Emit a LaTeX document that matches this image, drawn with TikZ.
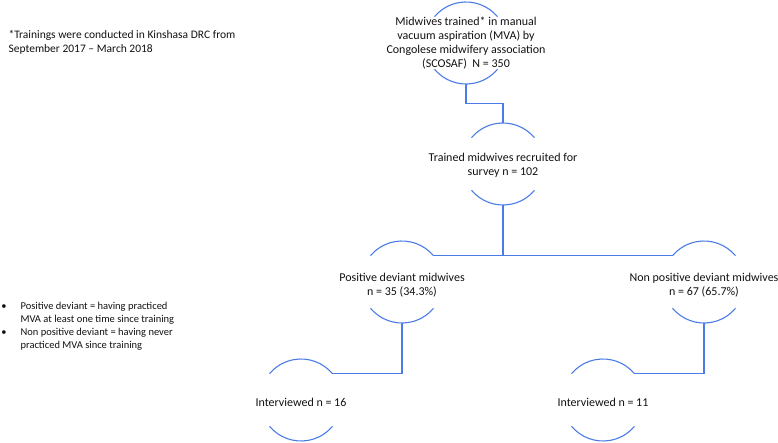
\documentclass[tikz,border=0pt]{standalone}
\usepackage{fontspec}
\setmainfont{Carlito}
\usetikzlibrary{calc}
\definecolor{cline}{HTML}{4A7BE6}
\definecolor{ctext}{HTML}{111111}
\tikzset{
  every picture/.style={line width=1.1pt},
  ring/.style={circle, minimum size=82pt, inner sep=0pt, outer sep=0pt},
  lbl/.style={align=center, inner sep=0pt, text=ctext, font=\fontsize{12}{14}\selectfont},
  link/.style={draw=cline, line width=1.1pt},
  note/.style={align=left, inner sep=0pt, text=ctext, font=\fontsize{11.5}{14}\selectfont},
  bnote/.style={align=left, inner sep=0pt, text=ctext, font=\fontsize{10.5}{12.7}\selectfont},
}

\begin{document}
\begin{tikzpicture}[x=1pt,y=1pt]
  \useasboundingbox (0,0) rectangle (778,-443);
  % the circles, only their upper and lower arcs are drawn
  \foreach \n/\x/\y in {top/466/43, rec/503/164, pos/402/282, neg/704/282, intp/301/400, intn/603/400}
    \node[ring] (\n) at (\x,-\y) {};
  \foreach \n in {top,rec,pos,neg,intp,intn} {
    \draw[link] (\n.40) arc[start angle=40, end angle=140, radius=41pt];
    \draw[link] (\n.220) arc[start angle=220, end angle=320, radius=41pt];
  }
  % texts in the circles
  \node[lbl] (topt) at (466,-43) {Midwives trained* in manual\\ vacuum aspiration (MVA) by\\ Congolese midwifery association\\ (SCOSAF)~~N = 350};
  \node[lbl] (rect) at (503,-165) {Trained midwives recruited for\\ survey n = 102};
  \node[lbl] (post) at (402,-285) {Positive deviant midwives\\ n = 35 (34.3\%)};
  \node[lbl] (negt) at (704,-285) {Non positive deviant midwives\\ n = 67 (65.7\%)};
  \node[lbl] (intpt) at (301,-402.5) {Interviewed n = 16};
  \node[lbl] (intnt) at (603,-402.5) {Interviewed n = 11};
  % connectors
  \draw[link] (top.south) |- ($(top.south)!0.5!(rec.north)$) -| (rec.north);
  \draw[link] (pos.40) -- (neg.140);
  \draw[link] (rec.south) -- (rec.south |- pos.40);
  \draw[link] (pos.south) |- (intp.40);
  \draw[link] (neg.south) |- (intn.40);
  % notes on the left
  \node[note, anchor=west] (foot) at (8,-42.5) {*Trainings were conducted in Kinshasa DRC from\\ September 2017 -- March 2018};
  \node[bnote, anchor=west] (def1) at (20,-313.5) {Positive deviant = having practiced\\ MVA at least one time since training};
  \node[bnote, anchor=west] (def2) at (20,-339.5) {Non positive deviant = having never\\ practiced MVA since training};
  \node[bnote] (dot1) at (4,-307) {\textbullet};
  \node[bnote] (dot2) at (4,-333) {\textbullet};
\end{tikzpicture}
\end{document}
